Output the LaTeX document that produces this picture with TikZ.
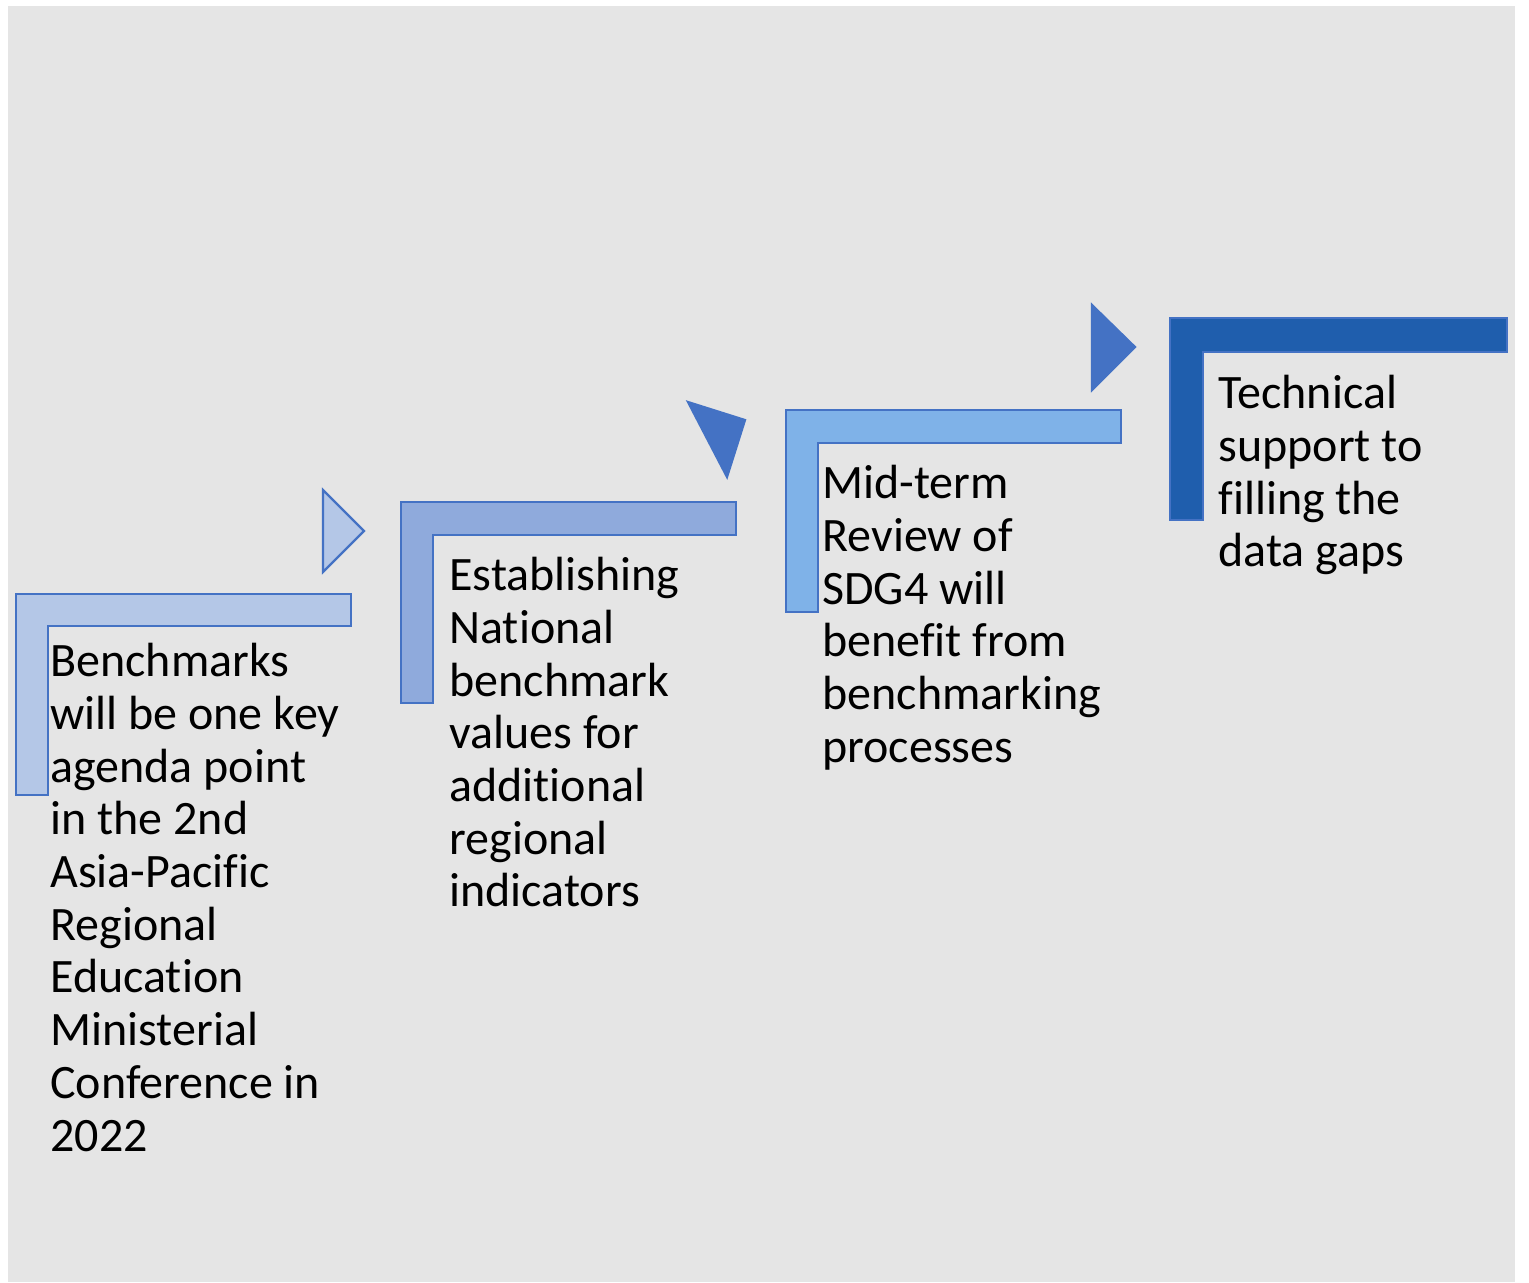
\documentclass[tikz,border=0pt]{standalone}
\usepackage{fontspec}
\setmainfont{Carlito}[Ligatures={NoCommon}]
\usetikzlibrary{positioning}

\definecolor{fondgris}{HTML}{E5E5E5}
\definecolor{bordbleu}{HTML}{4472C4}
\definecolor{bleuA}{HTML}{B4C7E7}
\definecolor{bleuB}{HTML}{8FAADC}
\definecolor{bleuC}{HTML}{7FB2E8}
\definecolor{bleuD}{HTML}{1F5EAD}

\begin{document}
\begin{tikzpicture}[x=0.5pt, y=-0.5pt,
  marche/.style={draw=bordbleu, line width=1.1pt},
  pointe/.style={draw=bordbleu, line width=1.1pt, line join=miter},
  texte/.style={anchor=north west, inner sep=0pt, align=left, text=black,
    font=\fontsize{24}{26.35}\selectfont}]

% Fond
\fill[fondgris] (8,6) rectangle (1515,1282);
\useasboundingbox (0,0) rectangle (1529,1282);

% Etape 1
\draw[marche, fill=bleuA] (16,594) -- (351,594) -- (351,626) -- (48,626) -- (48,795) -- (16,795) -- cycle;
\draw[pointe, fill=bleuA] (323,490) -- (364,531) -- (323,572) -- cycle;
\node[texte] (E1) at (50,643) {Benchmarks\\will be one key\\agenda point\\in the 2nd\\Asia-Pacific\\Regional\\Education\\Ministerial\\Conference in\\2022};

% Etape 2
\draw[marche, fill=bleuB] (401,502) -- (736,502) -- (736,535) -- (433,535) -- (433,703) -- (401,703) -- cycle;
\draw[pointe, fill=bordbleu] (688,402) -- (745,420) -- (727,477) -- cycle;
\node[texte] (E2) at (449,557) {Establishing\\National\\benchmark\\values for\\additional\\regional\\indicators};

% Etape 3
\draw[marche, fill=bleuC] (786,410) -- (1121,410) -- (1121,443) -- (818,443) -- (818,612) -- (786,612) -- cycle;
\draw[pointe, fill=bordbleu] (1092,305) -- (1135,347) -- (1092,390) -- cycle;
\node[texte] (E3) at (822,465) {Mid-term\\Review of\\SDG4 will\\benefit from\\benchmarking\\processes};

% Etape 4
\draw[marche, fill=bleuD] (1170,318) -- (1507,318) -- (1507,352) -- (1203,352) -- (1203,520) -- (1170,520) -- cycle;
\node[texte] (E4) at (1218,375) {Technical\\support to\\filling the\\data gaps};

\end{tikzpicture}
\end{document}
